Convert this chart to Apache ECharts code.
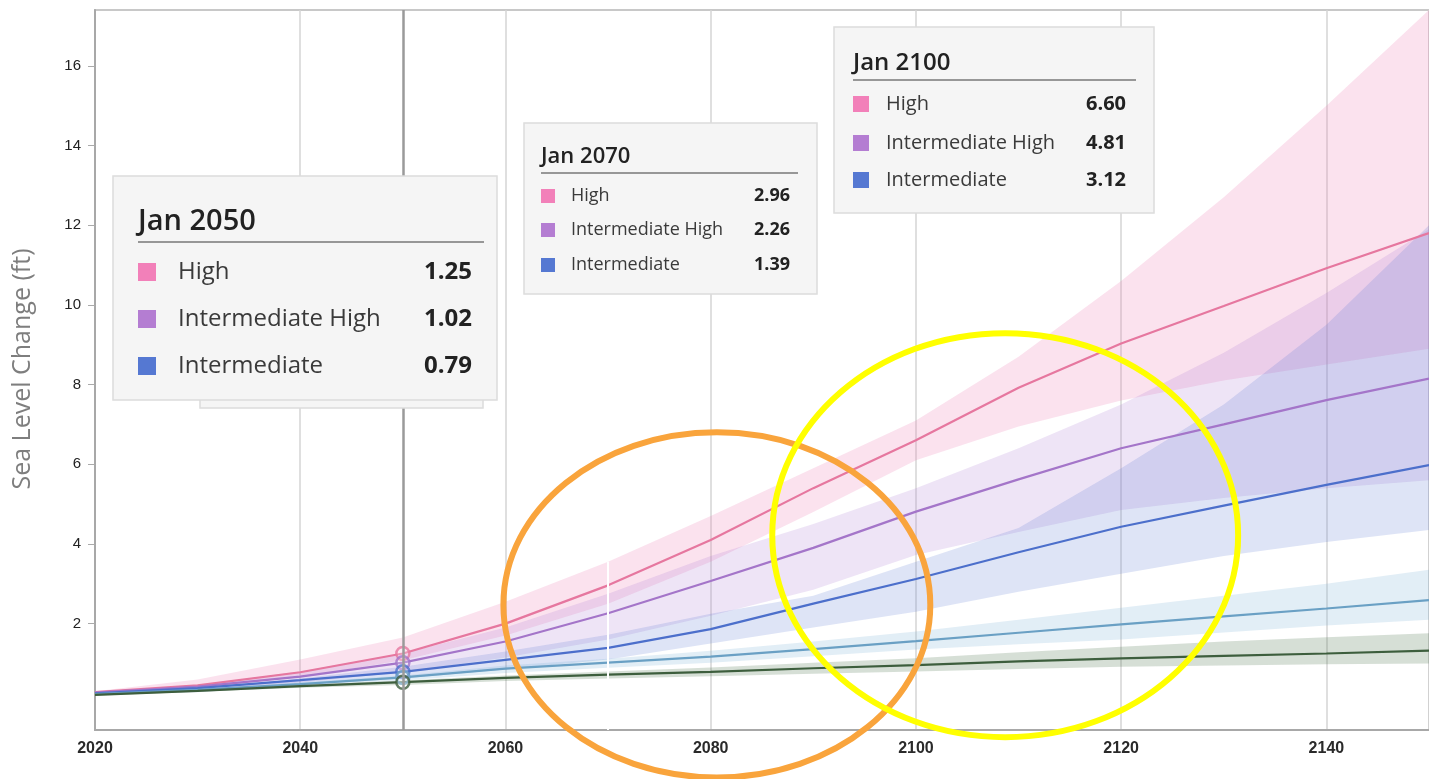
<!DOCTYPE html>
<html>
<head>
<meta charset="utf-8">
<title>Sea Level Change</title>
<script src="https://cdn.jsdelivr.net/npm/echarts@6.0.0/dist/echarts.min.js"></script>
<style>
  html, body { margin: 0; padding: 0; background: #fff; }
  #chart { width: 1429px; height: 779px; }
</style>
</head>
<body>
<div id="chart"></div>
<script>
// years (10-year steps)
var years = [2020, 2030, 2040, 2050, 2060, 2070, 2080, 2090, 2100, 2110, 2120, 2130, 2140, 2150];

// scenario medians (ft)
var high     = [0.28, 0.45, 0.78, 1.25, 2.00, 2.96, 4.10, 5.40, 6.60, 7.92, 9.03, 9.97, 10.92, 11.80];
var intHigh  = [0.27, 0.42, 0.67, 1.02, 1.55, 2.26, 3.07, 3.90, 4.81, 5.62, 6.40, 7.00, 7.61, 8.15];
var inter    = [0.25, 0.38, 0.58, 0.79, 1.09, 1.39, 1.86, 2.50, 3.12, 3.79, 4.43, 4.96, 5.48, 5.98];
var intLow   = [0.23, 0.34, 0.48, 0.65, 0.87, 1.02, 1.17, 1.36, 1.56, 1.77, 1.98, 2.18, 2.38, 2.59];
var low      = [0.21, 0.31, 0.43, 0.53, 0.64, 0.72, 0.79, 0.88, 0.96, 1.05, 1.13, 1.19, 1.25, 1.32];

// likely ranges (lower / upper)
var highLo    = [0.26, 0.38, 0.66, 1.08, 1.70, 2.50, 3.55, 4.80, 6.10, 6.95, 7.60, 8.10, 8.50, 8.90];
var highUp    = [0.30, 0.60, 1.10, 1.65, 2.55, 3.55, 4.70, 5.90, 7.10, 8.70, 10.60, 12.70, 15.00, 17.40];
var intHighLo = [0.25, 0.32, 0.52, 0.78, 1.15, 1.60, 2.20, 2.85, 3.72, 4.30, 4.85, 5.15, 5.40, 5.60];
var intHighUp = [0.28, 0.45, 0.80, 1.25, 1.90, 2.75, 3.70, 4.50, 5.40, 6.40, 7.50, 8.80, 10.30, 11.90];
var interLo   = [0.22, 0.28, 0.45, 0.62, 0.85, 1.10, 1.50, 1.90, 2.30, 2.80, 3.25, 3.70, 4.05, 4.35];
var interUp   = [0.26, 0.36, 0.62, 0.92, 1.30, 1.72, 2.25, 2.70, 3.55, 4.40, 5.90, 7.50, 9.50, 12.00];
var intLowLo  = [0.22, 0.31, 0.43, 0.57, 0.76, 0.89, 1.02, 1.18, 1.35, 1.48, 1.60, 1.78, 1.95, 2.10];
var intLowUp  = [0.24, 0.36, 0.52, 0.70, 0.95, 1.12, 1.32, 1.55, 1.80, 2.10, 2.40, 2.70, 3.00, 3.35];
var lowLo     = [0.19, 0.29, 0.39, 0.46, 0.56, 0.62, 0.68, 0.74, 0.80, 0.86, 0.92, 0.95, 0.98, 1.00];
var lowUp     = [0.21, 0.33, 0.46, 0.57, 0.70, 0.80, 0.90, 1.02, 1.13, 1.28, 1.42, 1.55, 1.66, 1.76];

// axis ticks
var xTicks = [2020, 2040, 2060, 2080, 2100, 2120, 2140];
var yTicks = [2, 4, 6, 8, 10, 12, 14, 16];

// tooltip snapshots
var tipNames = ['High', 'Intermediate High', 'Intermediate'];
var tip2050 = [1.25, 1.02, 0.79];
var tip2070 = [2.96, 2.26, 1.39];
var tip2100 = [6.60, 4.81, 3.12];

var markYear = 2050;

var lineColors = ['#e6779f', '#a475c9', '#4c6fcb', '#6aa0c4', '#3d5e3d'];
var bandColors = ['rgba(236,112,170,0.2)', 'rgba(170,120,210,0.2)', 'rgba(90,120,210,0.2)',
                  'rgba(110,170,210,0.2)', 'rgba(70,110,70,0.22)'];
var tipColors = ['#f280b9', '#b47dd2', '#5578d2'];

var medians = [high, intHigh, inter, intLow, low];
var lows = [highLo, intHighLo, interLo, intLowLo, lowLo];
var ups = [highUp, intHighUp, interUp, intLowUp, lowUp];

function pairs(arr) {
  return years.map(function (y, i) { return [y, arr[i]]; });
}

var series = [];

// shaded ranges, one polygon per scenario
lows.forEach(function (lo, k) {
  var up = ups[k];
  series.push({
    type: 'custom', silent: true, z: 1,
    data: years.map(function (y, i) { return [y, lo[i], up[i]]; }),
    encode: { x: 0, y: [1, 2] },
    renderItem: function (params, api) {
      if (params.dataIndex !== 0) return null;
      var pts = [];
      for (var i = 0; i < years.length; i++) pts.push(api.coord([years[i], up[i]]));
      for (var j = years.length - 1; j >= 0; j--) pts.push(api.coord([years[j], lo[j]]));
      return {
        type: 'polygon',
        shape: { points: pts },
        style: { fill: bandColors[k] }
      };
    }
  });
});

// crosshair at 2050
series.push({
  type: 'line', data: [], z: 2,
  markLine: {
    silent: true, symbol: 'none', label: { show: false },
    lineStyle: { color: '#9a9a9a', width: 2.5, type: 'solid' },
    data: [{ xAxis: markYear }]
  }
});

medians.forEach(function (m, k) {
  series.push({
    type: 'line', data: pairs(m), symbol: 'none', z: 3,
    lineStyle: { color: lineColors[k], width: 2.2 }
  });
});

var idx = years.indexOf(markYear);
series.push({
  type: 'scatter', z: 4, symbol: 'circle', symbolSize: 13,
  data: medians.map(function (m, k) {
    return { value: [markYear, m[idx]], itemStyle: { color: 'rgba(255,255,255,0.3)', borderColor: lineColors[k], borderWidth: 2.5 } };
  })
});

// white cut at 2070
series.push({
  type: 'line', data: [], z: 5,
  markLine: {
    silent: true, symbol: 'none', label: { show: false },
    lineStyle: { color: '#ffffff', width: 2, type: 'solid' },
    data: [[{ coord: [2070, -0.67] }, { coord: [2070, highUp[5]] }]]
  }
});

var chart = echarts.init(document.getElementById('chart'));
chart.setOption({
  animation: false,
  grid: { left: 95, right: 0, top: 10, bottom: 49, show: true, borderColor: '#c8c8c8', borderWidth: 2 },
  xAxis: {
    type: 'value', min: 2020, max: 2150, interval: 20,
    axisLine: { onZero: false, lineStyle: { color: '#a8a8a8', width: 2 } },
    axisTick: { show: false },
    splitLine: { show: true, lineStyle: { color: '#d4d4d4', width: 1.5 } },
    axisLabel: {
      customValues: xTicks, formatter: function (v) { return String(v); },
      color: '#2a2a2a', fontSize: 16, fontWeight: 'bold', fontFamily: 'Liberation Sans', margin: 11
    }
  },
  yAxis: {
    type: 'value', min: -0.67, max: 17.4,
    axisLine: { show: true, onZero: false, lineStyle: { color: '#a8a8a8', width: 2 } },
    axisTick: { show: true, customValues: yTicks, length: 7, lineStyle: { color: '#aaa' } },
    splitLine: { show: false },
    axisLabel: {
      customValues: yTicks, color: '#222', fontSize: 15, fontFamily: 'Liberation Sans', margin: 14
    }
  },
  series: series
});

// annotation layer
function tipBox(b, title, vals, z) {
  var kids = [
    { type: 'rect', z: z, shape: { x: b.x, y: b.y, width: b.w, height: b.h },
      style: { fill: '#f5f5f5', stroke: '#dcdcdc', lineWidth: 1.5 } },
    { type: 'text', z: z + 1, x: b.tx, y: b.ty,
      style: { text: title, fill: '#222', font: '600 ' + b.ts + 'px "Open Sans"', verticalAlign: 'middle' } },
    { type: 'line', z: z + 1, shape: { x1: b.tx, y1: b.ly, x2: b.lr, y2: b.ly }, style: { stroke: '#777', lineWidth: 1.5 } }
  ];
  tipNames.forEach(function (n, i) {
    kids.push({ type: 'rect', z: z + 1, shape: { x: b.tx, y: b.rows[i] - b.sq / 2, width: b.sq, height: b.sq },
      style: { fill: tipColors[i] } });
    kids.push({ type: 'text', z: z + 1, x: b.lx, y: b.rows[i],
      style: { text: n, fill: '#3a3a3a', font: b.fs + 'px "Open Sans"', verticalAlign: 'middle' } });
    kids.push({ type: 'text', z: z + 1, x: b.vx, y: b.rows[i],
      style: { text: vals[i].toFixed(2), fill: '#222', font: 'bold ' + b.fs + 'px "Open Sans"',
               align: 'right', verticalAlign: 'middle' } });
  });
  return { type: 'group', children: kids };
}

function ellipse(c, r, color) {
  var p = chart.convertToPixel({ gridIndex: 0 }, c);
  var q = chart.convertToPixel({ gridIndex: 0 }, [c[0] + r[0], c[1] + r[1]]);
  return { type: 'ellipse', z: 90, silent: true,
    shape: { cx: p[0], cy: p[1], rx: Math.abs(q[0] - p[0]), ry: Math.abs(p[1] - q[1]) },
    style: { fill: 'none', stroke: color, lineWidth: 6 } };
}

var graphics = [
  { type: 'text', z: 100, x: 23, y: 369, rotation: Math.PI / 2,
    style: { text: 'Sea Level Change (ft)', fill: '#7e7e7e', font: '25px "Open Sans"', align: 'center', verticalAlign: 'middle' } },
  ellipse([2080.6, 2.47], [20.8, 4.33], '#f9a43c'),
  ellipse([2108.7, 4.22], [22.7, 5.07], '#ffff00'),
  { type: 'rect', z: 95, shape: { x: 200, y: 200, width: 283, height: 208 },
    style: { fill: '#f5f5f5', stroke: '#dcdcdc', lineWidth: 1.5 } },
  tipBox({ x: 113, y: 176, w: 384, h: 224, tx: 138, ty: 222, ts: 29, ly: 242, lr: 484,
           rows: [272, 319, 366], sq: 18, lx: 178, vx: 472, fs: 24 }, 'Jan 2050', tip2050, 100),
  tipBox({ x: 524, y: 123, w: 293, h: 171, tx: 541, ty: 157, ts: 22, ly: 173, lr: 798,
           rows: [196, 230, 265], sq: 14, lx: 571, vx: 790, fs: 18 }, 'Jan 2070', tip2070, 100),
  tipBox({ x: 834, y: 27, w: 320, h: 186, tx: 853, ty: 63, ts: 24, ly: 80, lr: 1136,
           rows: [104, 143, 180], sq: 16, lx: 886, vx: 1126, fs: 20 }, 'Jan 2100', tip2100, 100)
];
chart.setOption({ graphic: graphics });
</script>
</body>
</html>
